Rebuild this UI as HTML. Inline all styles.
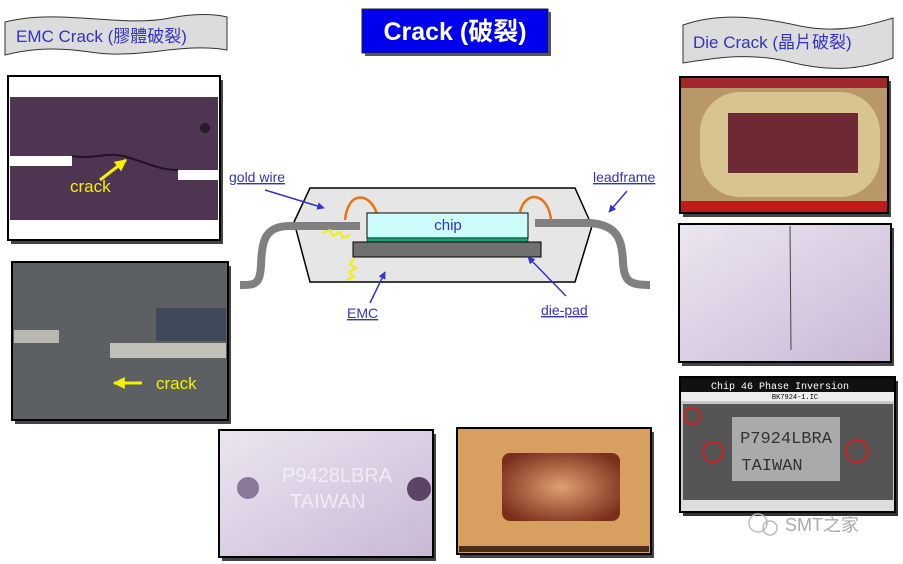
<!DOCTYPE html>
<html><head><meta charset="utf-8"><style>
html,body{margin:0;padding:0;background:#fff;}
svg{display:block;}
text{font-family:"Liberation Sans","Noto Sans CJK TC",sans-serif;}
text.mono{font-family:"Liberation Mono",monospace;}
</style></head><body>
<svg width="903" height="564" viewBox="0 0 903 564" xmlns="http://www.w3.org/2000/svg">
<defs>
<radialGradient id="g4" cx="0.5" cy="0.5" r="0.6"><stop offset="0" stop-color="#e0a070"/><stop offset="1" stop-color="#7a2e1c"/></radialGradient>
<linearGradient id="lav" x1="0" y1="0" x2="1" y2="1"><stop offset="0" stop-color="#ece6f0"/><stop offset="1" stop-color="#c9b8d6"/></linearGradient>
<marker id="ar" viewBox="0 0 10 10" refX="9" refY="5" markerWidth="5" markerHeight="5" orient="auto"><path d="M0,0L10,5L0,10z" fill="#3333cc"/></marker>
<marker id="ay" viewBox="0 0 10 10" refX="9" refY="5" markerWidth="4" markerHeight="4" orient="auto"><path d="M0,0L10,5L0,10z" fill="#f5f000"/></marker>
</defs>

<path d="M5,22 C60,8 120,28 170,18 C195,13 215,14 227,17 L227,50 C180,42 140,60 90,52 C50,46 25,50 5,55 Z" fill="#dcdcdc" stroke="#333" stroke-width="1"/>
<text x="16" y="42" font-size="17" fill="#3333bb">EMC Crack (膠體破裂)</text>
<rect x="362" y="9" width="186" height="44" fill="#0000ee" stroke="#222" stroke-width="1"/>
<rect x="548" y="12" width="3" height="44" fill="#555"/><rect x="365" y="53" width="186" height="3" fill="#555"/>
<text x="455" y="40" font-size="25" font-weight="bold" fill="#fff" text-anchor="middle">Crack (破裂)</text>
<path d="M683,25 C720,12 760,17 800,26 C840,34 870,25 893,18 L893,58 C860,70 830,72 790,62 C750,52 715,58 683,63 Z" fill="#dcdcdc" stroke="#333" stroke-width="1"/>
<text x="693" y="48" font-size="17" fill="#3333bb">Die Crack (晶片破裂)</text>

<rect x="11" y="80" width="212" height="164" fill="#444"/>
<rect x="8" y="76" width="212" height="164" fill="#fff" stroke="#000" stroke-width="2"/>
<rect x="10" y="97" width="208" height="123" fill="#4e3552"/>
<rect x="10" y="156" width="62" height="10" fill="#fff"/><rect x="178" y="170" width="40" height="10" fill="#fff"/>
<circle cx="205" cy="128" r="5" fill="#2a1a2e"/>
<path d="M72,156 C95,160 110,150 130,158 C150,164 160,170 178,170" fill="none" stroke="#22122a" stroke-width="2"/>
<line x1="100" y1="180" x2="126" y2="160" stroke="#f5f000" stroke-width="3" marker-end="url(#ay)"/>
<text x="70" y="192" font-size="17" fill="#f5f000">crack</text>

<rect x="15" y="266" width="216" height="158" fill="#444"/>
<rect x="12" y="262" width="216" height="158" fill="#5c6062" stroke="#000" stroke-width="2"/>
<rect x="14" y="330" width="45" height="13" fill="#b8b8b0"/>
<rect x="156" y="308" width="70" height="33" fill="#3e4a5a"/>
<rect x="110" y="343" width="116" height="15" fill="#c0c0b8"/>
<line x1="142" y1="383" x2="114" y2="383" stroke="#f5f000" stroke-width="3" marker-end="url(#ay)"/>
<text x="156" y="389" font-size="17" fill="#f5f000">crack</text>

<rect x="222" y="434" width="214" height="127" fill="#444"/>
<rect x="219" y="430" width="214" height="127" fill="url(#lav)" stroke="#000" stroke-width="2"/>
<circle cx="248" cy="488" r="11" fill="#8a7a98"/><circle cx="419" cy="489" r="12" fill="#5c4466"/>
<text x="282" y="482" font-size="20" fill="#f6f4f8" opacity="0.8">P9428LBRA</text>
<text x="290" y="508" font-size="20" fill="#f6f4f8" opacity="0.8">TAIWAN</text>

<rect x="460" y="432" width="194" height="126" fill="#444"/>
<rect x="457" y="428" width="194" height="126" fill="#d8a060" stroke="#000" stroke-width="2"/>
<rect x="502" y="453" width="118" height="68" rx="8" fill="url(#g4)"/>
<rect x="459" y="546" width="190" height="6" fill="#4a2a1a"/>

<rect x="683" y="81" width="208" height="136" fill="#444"/>
<rect x="680" y="77" width="208" height="136" fill="#b89868" stroke="#000" stroke-width="2"/>
<rect x="681" y="78" width="206" height="10" fill="#a0282a"/>
<rect x="681" y="201" width="206" height="11" fill="#c01a1a"/>
<rect x="700" y="92" width="180" height="105" rx="40" fill="#d8c490"/>
<rect x="728" y="113" width="130" height="60" fill="#6e2a34"/>

<rect x="682" y="228" width="212" height="138" fill="#444"/>
<rect x="679" y="224" width="212" height="138" fill="url(#lav)" stroke="#000" stroke-width="2"/>
<line x1="790" y1="226" x2="791" y2="350" stroke="#444" stroke-width="1"/>

<rect x="683" y="381" width="215" height="135" fill="#333"/>
<rect x="680" y="377" width="215" height="135" fill="#c8c8c8" stroke="#000" stroke-width="2"/>
<rect x="681" y="378" width="213" height="14" fill="#111"/>
<text class="mono" x="780" y="389" font-size="10" fill="#fff" text-anchor="middle">Chip 46  Phase Inversion</text>
<rect x="681" y="392" width="213" height="9" fill="#eee"/>
<text class="mono" x="795" y="399" font-size="7" fill="#000" text-anchor="middle">BK7924-1.IC</text>
<rect x="683" y="404" width="210" height="96" fill="#555"/>
<rect x="732" y="417" width="108" height="64" fill="#aaa"/>
<text class="mono" x="786" y="443" font-size="17" fill="#333" text-anchor="middle">P7924LBRA</text>
<text class="mono" x="772" y="470" font-size="17" fill="#333" text-anchor="middle">TAIWAN</text>
<circle cx="713" cy="452" r="10" fill="none" stroke="#d02020" stroke-width="2"/>
<circle cx="857" cy="451" r="11" fill="none" stroke="#d02020" stroke-width="2"/>
<circle cx="692" cy="416" r="8" fill="none" stroke="#d02020" stroke-width="2"/>
<rect x="681" y="500" width="213" height="11" fill="#ddd"/>
<circle cx="758" cy="523" r="9" fill="none" stroke="#bbb" stroke-width="1.5"/><circle cx="770" cy="528" r="7" fill="none" stroke="#bbb" stroke-width="1.5"/>
<text x="785" y="531" font-size="18" fill="#aaa">SMT之家</text>

<path d="M310,188 L575,188 L592,226 L575,282 L310,282 L294,222 Z" fill="#e6e6e6" stroke="#000" stroke-width="1.5"/>
<path d="M360,226 L290,226 C265,226 262,240 261,265 C260,285 255,285 240,285" fill="none" stroke="#808080" stroke-width="8"/>
<path d="M535,223 L590,223 C618,225 622,240 623,262 C624,282 630,285 650,285" fill="none" stroke="#808080" stroke-width="8"/>
<path d="M345,220 C348,190 370,192 377,214" fill="none" stroke="#f07010" stroke-width="2.5"/>
<path d="M520,212 C525,190 548,192 551,220" fill="none" stroke="#f07010" stroke-width="2.5"/>
<rect x="367" y="213" width="161" height="25" fill="#ccfcfc" stroke="#000" stroke-width="1"/>
<rect x="367" y="238" width="161" height="5" fill="#20a070" stroke="#000" stroke-width="0.5"/>
<rect x="353" y="242" width="188" height="15" fill="#707070" stroke="#000" stroke-width="1"/>
<text x="448" y="230" font-size="15" fill="#3333bb" text-anchor="middle">chip</text>
<path d="M323,233 L330,230 L333,236 L340,232 L343,238 L350,235" fill="none" stroke="#f5f000" stroke-width="2"/>
<path d="M355,258 L350,264 L356,268 L349,272 L354,277 L346,280" fill="none" stroke="#f5f000" stroke-width="2"/>
<line x1="265" y1="190" x2="324" y2="208" stroke="#3333cc" stroke-width="1.5" marker-end="url(#ar)"/>
<line x1="627" y1="191" x2="609" y2="212" stroke="#3333cc" stroke-width="1.5" marker-end="url(#ar)"/>
<line x1="370" y1="303" x2="385" y2="272" stroke="#3333cc" stroke-width="1.5" marker-end="url(#ar)"/>
<line x1="566" y1="296" x2="528" y2="257" stroke="#3333cc" stroke-width="1.5" marker-end="url(#ar)"/>
<text x="229" y="182" font-size="14" fill="#3333bb" text-decoration="underline">gold wire</text>
<text x="593" y="182" font-size="14" fill="#3333bb" text-decoration="underline">leadframe</text>
<text x="347" y="318" font-size="14" fill="#3333bb" text-decoration="underline">EMC</text>
<text x="541" y="315" font-size="14" fill="#3333bb" text-decoration="underline">die-pad</text>
</svg>
</body></html>
